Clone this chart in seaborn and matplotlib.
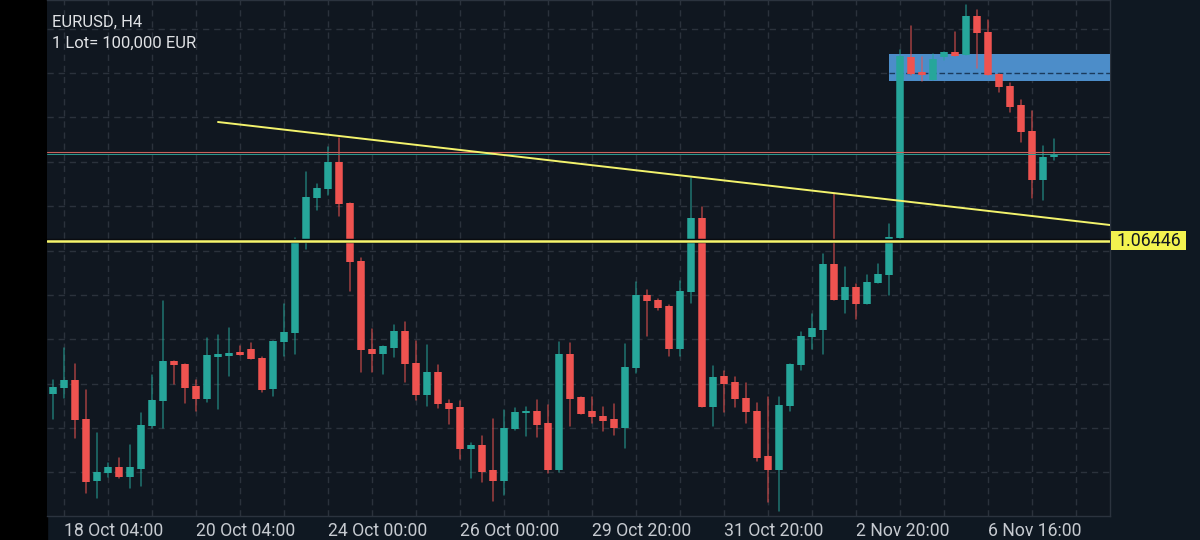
import numpy as np
import pandas as pd
import seaborn as sns
import matplotlib
matplotlib.use("Agg")
import matplotlib.pyplot as plt
from matplotlib.patches import Rectangle

# price values are kept in pips away from the horizontal level
level = 1.06446
pip = 0.0001

highs = [-69.5,-53.5,-61.5,-74.5,-96,-111,-108.5,-102,-86,-67,-30,-60,-61.5,-69.5,-48.5,-47,-43.5,-52.5,-51,-58,-50,-31.5,1.5,34.5,
         28.5,47,51.5,19,-8.5,-44,-52.5,-42,-40.5,-50,-52,-62,-79.5,-80,-101,-97.5,-89,-84.5,-83.5,-83,-79.5,-82,
         -50.5,-51,-78,-78,-83,-81.5,-51.5,-20.5,-24.5,-29,-32,-20,31.5,17,-62.5,-65,-68,-71,-81,-78,-78,-61.5,-45.5,
         -36.5,-6.5,24,-13,-21.5,-17,-11.5,8.5,95.5,107.5,92,93.5,94.5,104.5,118,115.5,110.5,83.5,79,70.5,65,47.5,51]
opens = [-76.5,-73.5,-69.5,-89,-120,-116,-113,-118,-114,-92.5,-80,-60,-61.5,-72.5,-79,-58,-57.5,-55.5,-54,-58.5,-74,-50.5,-46,0.5,
         21.5,26,39.5,19,-10,-54,-56.5,-53.5,-45,-61,-77,-65.5,-81,-83,-104,-102,-114.5,-120,-94,-86,-85,-91,
         -114.5,-56.5,-78,-85,-87.5,-89,-93.5,-63.5,-27,-29.5,-32.5,-54,-25.5,11.5,-83,-67.5,-70.5,-78.5,-85,-107.5,-114.5,-82.5,-62,
         -48,-44.5,-11.5,-29.5,-23,-31.5,-21,-17,1.5,92,84.5,80.5,92,94.5,93,112.5,104.5,83.5,77.5,68,55,30.5,42]
closes = [-73,-69.5,-89.5,-120.5,-115.5,-113,-118,-113,-92,-79.5,-60,-62,-73.5,-79,-57,-56.5,-56,-57,-59,-74.5,-50,-45.5,-0.5,22,
          26.5,39.5,18.5,-10.5,-54.5,-56.5,-52.5,-45,-61.5,-77,-65.5,-81.5,-84,-104,-102,-115.5,-120,-93.5,-85.5,-85,-92,-114.5,
          -56.5,-79,-86.5,-88,-90,-93.5,-63,-27,-30,-33.5,-54,-25,11.5,-83,-68,-71.5,-79,-85.5,-108.5,-114.5,-82,-61.5,-47.5,
          -43.5,-11.5,-29.5,-23,-31.5,-20.5,-16.5,2,92.5,83.5,83,91,94.5,92.5,112.5,104,83,77,67,54.5,30.5,42,43]
lows = [-89,-78.5,-98.5,-126,-128.5,-118,-118.5,-123.5,-122.5,-93.5,-93.5,-71.5,-81,-85,-80.5,-84,-67.5,-57,-59,-75.5,-77.5,-57.5,-56.5,-4,
        15.5,23,12.5,-25,-65.5,-65.5,-66.5,-58,-70.5,-79.5,-82.5,-83.5,-91.5,-109,-118.5,-120.5,-130,-127,-94.5,-97.5,-98,-116,
        -115.5,-92.5,-86.5,-91,-95,-97,-103.5,-66,-47.5,-34.5,-57.5,-57.5,-31,-83,-92.5,-85.5,-83,-91,-110,-130.5,-135,-85,-64.5,
        -54,-56.5,-29.5,-36,-39,-31.5,-21,-27,1.5,83,80,80.5,90.5,92.5,93,86.5,83,74.5,64.5,49.5,21.5,20.5,40.5]

time_labels = ["18 Oct 04:00", "20 Oct 04:00", "24 Oct 00:00", "26 Oct 00:00",
               "29 Oct 20:00", "31 Oct 20:00", "2 Nov 20:00", "6 Nov 16:00"]
grid_pips = [106.2, 84, 61.8, 39.6, 17.5, -4.8, -27, -49.2, -71.5, -93.5, -115.7]
bid_pips = 44.4
ask_pips = 43.4
trend_idx = [15, 96.09]
trend_pips = [59.5, 8]
zone_pips = [80, 93.5]
zone_mid_pips = 84
zone_start = 76

n = len(highs)
rows_wick = []
rows_body = []
for i in range(n):
    d = "up" if closes[i] >= opens[i] else "down"
    for v in (highs[i], lows[i]):
        rows_wick.append((i, level + v * pip, d))
    for v in (opens[i], closes[i]):
        rows_body.append((i, level + v * pip, d))
wicks = pd.DataFrame(rows_wick, columns=["idx", "price", "side"])
bodies = pd.DataFrame(rows_body, columns=["idx", "price", "side"])

sns.set_theme(style="dark")
plt.rcParams["font.family"] = ["Roboto", "DejaVu Sans"]

fig = plt.figure(figsize=(12, 5.4), dpi=100, facecolor="#0f1822")
fig.add_artist(Rectangle((0, 0), 47 / 1200, 1, transform=fig.transFigure, color="black", zorder=0))
ax = fig.add_axes([47 / 1200, 24 / 540, 1063 / 1200, 516 / 540], facecolor="#101720")

colors = {"up": "#26a69a", "down": "#ef5350"}
sns.lineplot(data=wicks, x="idx", y="price", units="idx", hue="side", palette=colors, estimator=None,
             sort=False, linewidth=1.1, alpha=0.65, legend=False, ax=ax, zorder=4)
sns.lineplot(data=bodies, x="idx", y="price", units="idx", hue="side", palette=colors, estimator=None,
             sort=False, linewidth=5.4, legend=False, solid_capstyle="butt", ax=ax, zorder=5)

ax.set_xlim(-0.545, 96.09)
ax.set_ylim(level - 137.5 * pip, level + 120.5 * pip)

# grid every 4 candles, labels on every third line
grid_idx = list(range(1, 96, 4))
ax.set_xticks(grid_idx)
ax.set_xticklabels([time_labels[k // 3] if k % 3 == 0 and k // 3 < len(time_labels) else "" for k in range(len(grid_idx))],
                   ha="left", fontsize=12.7, color="#c6cad0")
ax.set_yticks([level + g * pip for g in grid_pips])
ax.set_yticklabels([])
ax.tick_params(length=0, pad=4)
ax.grid(True, color="#2b323c", linewidth=1, linestyle=(0, (4.5, 3.5)))
ax.set_axisbelow(True)
ax.set_xlabel("")
ax.set_ylabel("")
for side, sp in ax.spines.items():
    sp.set_color("#2b333e")
    sp.set_linewidth(1)
ax.spines["left"].set_visible(False)

# supply zone
ax.axhspan(level + zone_pips[0] * pip, level + zone_pips[1] * pip, xmin=(zone_start + 0.545) / 96.635, xmax=1,
           color="#4c8dc9", lw=0, zorder=3)
ax.plot([zone_start, 96.09], [level + zone_mid_pips * pip] * 2, color="#1a3a5c", lw=1, ls=(0, (4, 2)), zorder=3.5)

# bid/ask lines
ax.axhline(level + ask_pips * pip, color="#2d9b90", lw=0.7, zorder=5.9)
ax.axhline(level + bid_pips * pip, color="#c9625c", lw=0.8, zorder=6)

# drawn levels
ax.plot(trend_idx, [level + p * pip for p in trend_pips], color="#f3f36c", lw=1.4, zorder=7)
ax.axhline(level, color="#0a0c10", lw=3.2, zorder=6.5)
ax.axhline(level, color="#f6f66e", lw=1.8, zorder=7)

fig.text(52 / 1200, 1 - 22 / 540, "EURUSD, H4", fontsize=12, color="#dfe1e4", va="center", ha="left")
fig.text(52 / 1200, 1 - 43 / 540, "1 Lot= 100,000 EUR", fontsize=12, color="#dfe1e4", va="center", ha="left")

fig.add_artist(Rectangle((1111 / 1200, 1 - 250 / 540), 75 / 1200, 19 / 540, transform=fig.transFigure,
                         color="#f3f34f", lw=0, zorder=8))
fig.text(1148.5 / 1200, 1 - 241 / 540, "1.06446", fontsize=12.8, color="#101720", va="center", ha="center", zorder=9)

fig.savefig("out.png", dpi=100, facecolor=fig.get_facecolor())
